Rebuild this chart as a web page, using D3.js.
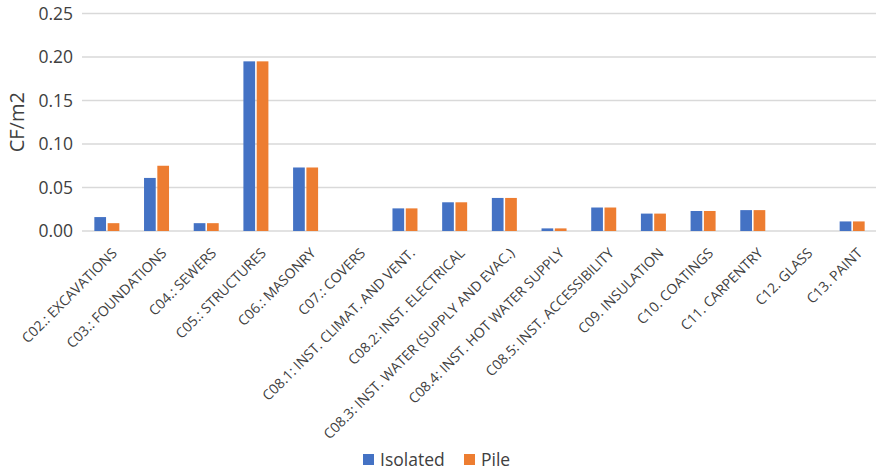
<!DOCTYPE html>
<html>
<head>
<meta charset="utf-8">
<script src="https://cdn.jsdelivr.net/npm/d3@7"></script>
<style>
  html, body { margin: 0; padding: 0; background: #fff; }
  svg { display: block; font-family: "Open Sans", "Noto Sans", sans-serif; }
  svg text { font-family: "Open Sans", "Noto Sans", sans-serif; }
</style>
</head>
<body>
<svg id="chart" width="876" height="472"></svg>
<script>
// Carbon footprint per m2 by construction chapter, two foundation options
const categories = [
  "C02.: EXCAVATIONS",
  "C03.: FOUNDATIONS",
  "C04.: SEWERS",
  "C05.: STRUCTURES",
  "C06.: MASONRY",
  "C07.: COVERS",
  "C08.1: INST. CLIMAT. AND VENT.",
  "C08.2: INST. ELECTRICAL",
  "C08.3: INST. WATER (SUPPLY AND EVAC.)",
  "C08.4: INST. HOT WATER SUPPLY",
  "C08.5: INST. ACCESSIBILITY",
  "C09. INSULATION",
  "C10. COATINGS",
  "C11. CARPENTRY",
  "C12. GLASS",
  "C13. PAINT"
];
const isolated = [0.016, 0.061, 0.009, 0.195, 0.073, 0, 0.026, 0.033, 0.038, 0.003, 0.027, 0.020, 0.023, 0.024, 0, 0.011];
const pile     = [0.009, 0.075, 0.009, 0.195, 0.073, 0, 0.026, 0.033, 0.038, 0.003, 0.027, 0.020, 0.023, 0.024, 0, 0.011];
const seriesNames = ["Isolated", "Pile"];
const yTicks = [0, 0.05, 0.10, 0.15, 0.20, 0.25];

const colors = { Isolated: "#4472C4", Pile: "#ED7D31" };
const seriesValues = { Isolated: isolated, Pile: pile };

const svg = d3.select("#chart");
const plotLeft = 82, plotRight = 877, plotTop = 13.5, plotBottom = 231;

const x = d3.scaleBand().domain(categories).range([plotLeft, plotRight]).paddingInner(0).paddingOuter(0);
const y = d3.scaleLinear().domain([0, 0.25]).range([plotBottom, plotTop]);

const barW = 11, barGap = 3;
const groupW = barW * 2 + barGap;
const inner = d3.scaleBand().domain(seriesNames)
  .range([-groupW / 2, groupW / 2]).paddingInner(barGap / groupW).paddingOuter(0);

// horizontal gridlines
svg.append("g")
  .selectAll("line")
  .data(yTicks)
  .join("line")
  .attr("x1", plotLeft).attr("x2", plotRight)
  .attr("y1", d => y(d)).attr("y2", d => y(d))
  .attr("stroke", "#d9d9d9")
  .attr("stroke-width", 1.5);

// y axis tick labels
const yAxis = d3.axisLeft(y).tickValues(yTicks).tickFormat(d3.format(".2f")).tickSize(0).tickPadding(9);
const yg = svg.append("g").attr("transform", `translate(${plotLeft},0)`).call(yAxis);
yg.attr("font-family", null);
yg.select(".domain").remove();
yg.selectAll("text").attr("font-size", 17.5).attr("fill", "#404040");

// y axis title
svg.append("text")
  .attr("transform", `translate(24,${(y(0.125))}) rotate(-90)`)
  .attr("text-anchor", "middle")
  .attr("font-size", 20)
  .attr("fill", "#404040")
  .text("CF/m2");

// bars
const groups = svg.append("g")
  .selectAll("g")
  .data(categories)
  .join("g")
  .attr("transform", d => `translate(${x(d) + x.bandwidth() / 2},0)`);

groups.selectAll("rect")
  .data((d, i) => seriesNames.map(s => ({ s, v: seriesValues[s][i] })))
  .join("rect")
  .attr("x", d => inner(d.s))
  .attr("width", inner.bandwidth())
  .attr("y", d => y(d.v))
  .attr("height", d => y(0) - y(d.v))
  .attr("fill", d => colors[d.s]);

// x axis category labels, rotated
const xAxis = d3.axisBottom(x).tickSize(0).tickPadding(0);
const xg = svg.append("g").attr("transform", `translate(0,${plotBottom})`).call(xAxis);
xg.attr("font-family", null);
xg.select(".domain").remove();
xg.selectAll("text")
  .attr("font-size", 14)
  .attr("fill", "#404040")
  .attr("text-anchor", "end")
  .attr("dy", null)
  .attr("y", 0)
  .attr("transform", "translate(11,23) rotate(-45)");

// legend
const legend = svg.append("g").attr("transform", "translate(363,454)");
const legendX = [0, 101];
seriesNames.forEach((s, i) => {
  const g = legend.append("g").attr("transform", `translate(${legendX[i]},0)`);
  g.append("rect").attr("width", 11).attr("height", 11).attr("fill", colors[s]);
  g.append("text").attr("x", 17).attr("y", 11.5).attr("font-size", 17.5).attr("fill", "#404040").text(s);
});
</script>
</body>
</html>
